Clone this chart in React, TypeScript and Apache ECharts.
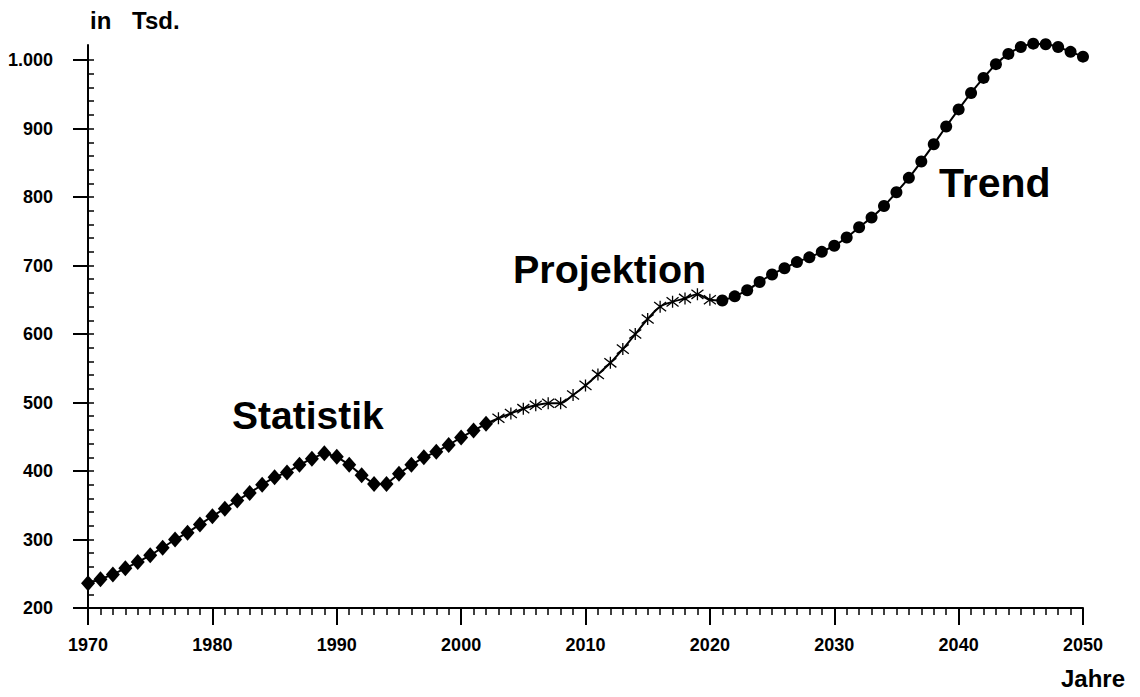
import React, { useEffect, useRef } from "react";
import * as echarts from "echarts";

// Statistik 1970–2002
const statYears = [1970,1971,1972,1973,1974,1975,1976,1977,1978,1979,1980,1981,1982,1983,1984,1985,1986,1987,1988,1989,1990,1991,1992,1993,1994,1995,1996,1997,1998,1999,2000,2001,2002];
const statValues = [236,242,249,258,267,277,288,300,310,322,334,345,357,368,380,391,398,409,418,426,421,409,394,381,381,396,409,420,428,438,449,459,469];

// Projektion 2002–2021 (endpoints shared with neighbouring segments)
const projYears = [2002,2003,2004,2005,2006,2007,2008,2009,2010,2011,2012,2013,2014,2015,2016,2017,2018,2019,2020,2021];
const projValues = [469,477,484,491,496,499,499,511,525,541,558,578,600,622,640,647,652,658,650,649];

// Trend 2021–2050
const trendYears = [2021,2022,2023,2024,2025,2026,2027,2028,2029,2030,2031,2032,2033,2034,2035,2036,2037,2038,2039,2040,2041,2042,2043,2044,2045,2046,2047,2048,2049,2050];
const trendValues = [649,655,664,676,687,696,705,712,720,729,741,756,770,787,807,828,852,877,903,928,952,974,994,1009,1019,1024,1023,1019,1012,1005];

const yTickValues = [200,300,400,500,600,700,800,900,1000];
const xTickValues = [1970,1980,1990,2000,2010,2020,2030,2040,2050];

const FONT = "'Liberation Sans', Arial, sans-serif";

function fmtThousands(v: number): string {
  return String(v).replace(/\B(?=(\d{3})+(?!\d))/g, ".");
}

export default function App() {
  const ref = useRef<HTMLDivElement>(null);
  useEffect(() => {
    document.body.style.margin = "0";
    if (!ref.current) return;
    const chart = echarts.init(ref.current, undefined, { renderer: "svg" });

    const yMinor: number[] = [];
    for (let v = 200; v <= 1000; v += 20) yMinor.push(v);

    const statData = statYears.map((y, i) => [y, statValues[i]]);
    const projData = projYears.map((y, i) => {
      const isEnd = i === 0 || i === projYears.length - 1;
      return isEnd ? { value: [y, projValues[i]], symbol: "none" } : [y, projValues[i]];
    });
    const trendData = trendYears.map((y, i) => [y, trendValues[i]]);

    const labelStyle = { color: "#000", fontFamily: FONT, fontWeight: "bold" as const, fontSize: 18 };

    chart.setOption({
      animation: false,
      backgroundColor: "#fff",
      grid: { left: 88, right: 57, top: 45, bottom: 89, containLabel: false },
      xAxis: {
        type: "value",
        min: 1970,
        max: 2050,
        interval: 10,
        axisLine: { show: true, lineStyle: { color: "#000", width: 2 } },
        axisTick: { show: true, length: 17, lineStyle: { color: "#000", width: 2 } },
        minorTick: { show: true, splitNumber: 10, length: 7, lineStyle: { color: "#000", width: 1.5 } },
        splitLine: { show: false },
        minorSplitLine: { show: false },
        axisLabel: { ...labelStyle, margin: 28, formatter: (v: number) => String(v), customValues: xTickValues },
      },
      yAxis: [
        {
          type: "value",
          min: 200,
          max: 1022,
          axisLine: { show: true, lineStyle: { color: "#000", width: 2 } },
          axisTick: { show: true, length: 15, lineStyle: { color: "#000", width: 2 }, customValues: yTickValues },
          axisLabel: { ...labelStyle, margin: 35, formatter: (v: number) => fmtThousands(v), customValues: yTickValues },
          splitLine: { show: false },
        },
        {
          type: "value",
          min: 200,
          max: 1022,
          position: "left",
          axisLine: { show: false },
          axisTick: { show: true, inside: true, length: 6, lineStyle: { color: "#000", width: 1.5 }, customValues: yMinor },
          axisLabel: { show: false },
          splitLine: { show: false },
        },
      ],
      series: [
        {
          name: "Statistik",
          type: "line",
          data: statData,
          symbol: "diamond",
          symbolSize: [14, 16],
          lineStyle: { color: "#000", width: 2 },
          itemStyle: { color: "#000" },
          z: 3,
        },
        {
          name: "Projektion",
          type: "line",
          data: projData,
          smooth: 0.3,
          symbol: "path://M5,0L5,10M0.8,1.2L9.2,8.8M0.8,8.8L9.2,1.2",
          symbolSize: 12,
          lineStyle: { color: "#000", width: 2 },
          itemStyle: { color: "none", borderColor: "#000", borderWidth: 1.3 },
          z: 2,
        },
        {
          name: "Trend",
          type: "line",
          data: trendData,
          smooth: 0.3,
          symbol: "circle",
          symbolSize: 12,
          lineStyle: { color: "#000", width: 2 },
          itemStyle: { color: "#000" },
          clip: false,
          z: 3,
        },
      ],
      graphic: [
        { type: "text", left: 90, top: 8, style: { text: "in", fill: "#000", font: `bold 24px ${FONT}` } },
        { type: "text", left: 132, top: 8, style: { text: "Tsd.", fill: "#000", font: `bold 24px ${FONT}` } },
        { type: "text", left: 1061, top: 666, style: { text: "Jahre", fill: "#000", font: `bold 24px ${FONT}` } },
        { type: "text", x: 232, y: 415, style: { text: "Statistik", fill: "#000", font: `bold 39px ${FONT}`, verticalAlign: "middle" } },
        { type: "text", x: 513, y: 269, style: { text: "Projektion", fill: "#000", font: `bold 39.5px ${FONT}`, verticalAlign: "middle" } },
        { type: "text", x: 939, y: 183, style: { text: "Trend", fill: "#000", font: `bold 41px ${FONT}`, verticalAlign: "middle" } },
      ],
    });
    return () => chart.dispose();
  }, []);
  return <div ref={ref} style={{ width: 1140, height: 697 }} />;
}
